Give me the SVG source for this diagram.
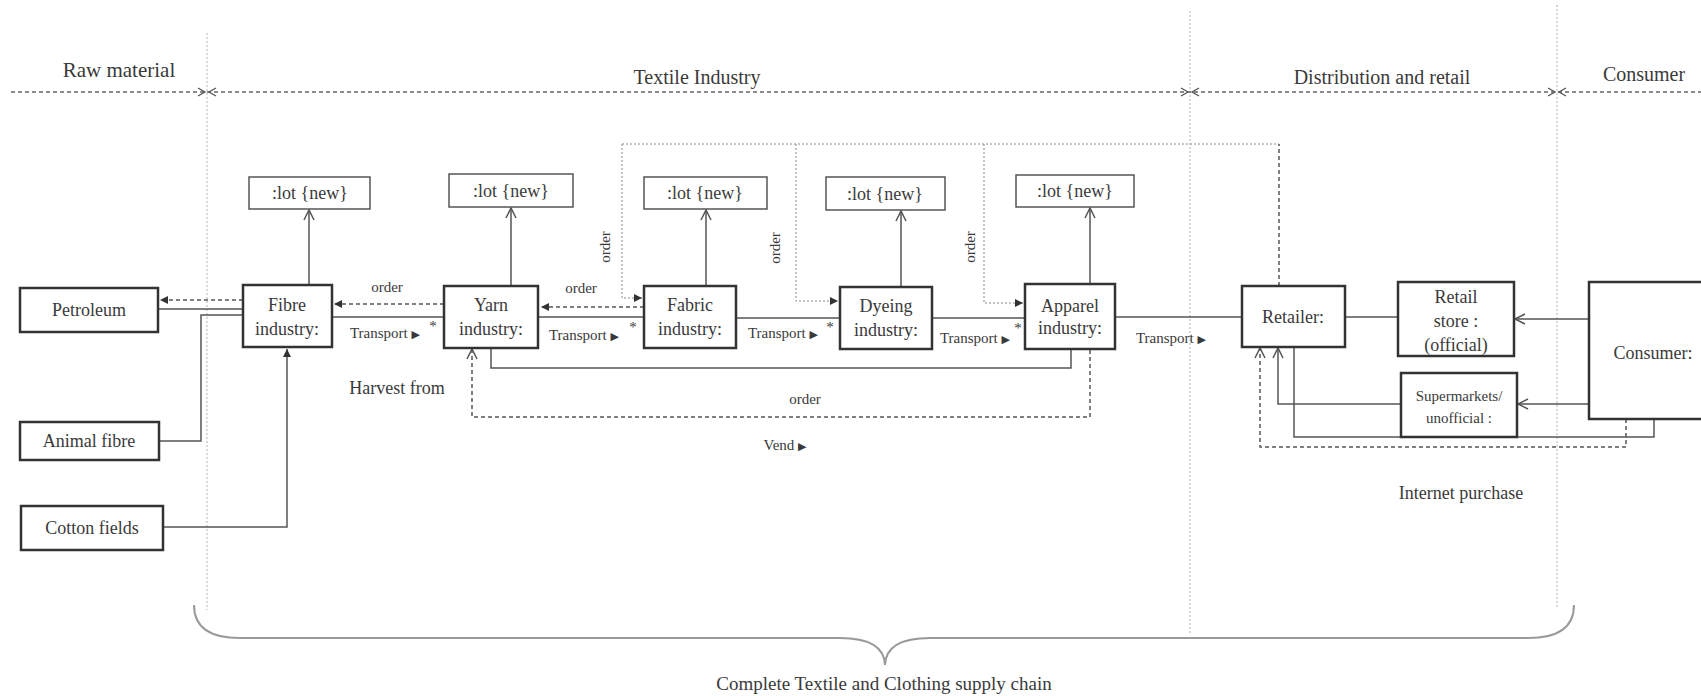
<svg xmlns="http://www.w3.org/2000/svg" width="1701" height="696" viewBox="0 0 1701 696">
<style>
.t{font-family:"Liberation Serif","Times New Roman",serif;fill:#3a3a3a;font-size:18px;text-anchor:middle}
.h{font-size:20px}
.s{font-size:15px}
.box{fill:#fff;stroke:#333;stroke-width:2.5}
.lot{fill:#fff;stroke:#555;stroke-width:1.5}
.ln{fill:none;stroke:#555;stroke-width:1.5}
.dash{fill:none;stroke:#555;stroke-width:1.5;stroke-dasharray:4 3}
.dot{fill:none;stroke:#888;stroke-width:1;stroke-dasharray:2 2}
.div{fill:none;stroke:#b0b0b0;stroke-width:1;stroke-dasharray:2 2}
.hdr{fill:none;stroke:#666;stroke-width:1.5;stroke-dasharray:4 3}
.chev{fill:none;stroke:#555;stroke-width:1.3}
.brace{fill:none;stroke:#999;stroke-width:2}
</style>
<defs>
<marker id="open" markerUnits="userSpaceOnUse" markerWidth="14" markerHeight="14" refX="11" refY="6" orient="auto">
<path d="M1,1 L11,6 L1,11" fill="none" stroke="#555" stroke-width="1.5"/>
</marker>
<marker id="fill" markerUnits="userSpaceOnUse" markerWidth="10" markerHeight="10" refX="8" refY="4" orient="auto">
<path d="M0,0 L8,4 L0,8 z" fill="#333"/>
</marker>
</defs>

<g id="header">
<line class="div" x1="207" y1="33" x2="207" y2="610"/>
<line class="div" x1="1190" y1="11" x2="1190" y2="633"/>
<line class="div" x1="1557" y1="5" x2="1557" y2="608"/>
<line class="hdr" x1="11" y1="92" x2="1701" y2="92"/>
<polyline class="chev" points="198,88 205,92 198,96"/>
<polyline class="chev" points="216,88 209,92 216,96"/>
<polyline class="chev" points="1181,88 1188,92 1181,96"/>
<polyline class="chev" points="1199,88 1192,92 1199,96"/>
<polyline class="chev" points="1548,88 1555,92 1548,96"/>
<polyline class="chev" points="1566,88 1559,92 1566,96"/>
<text class="t" style="font-size:21px" x="119" y="77">Raw material</text>
<text class="t h" x="697" y="84">Textile Industry</text>
<text class="t h" x="1382" y="84">Distribution and retail</text>
<text class="t h" x="1644" y="81">Consumer</text>
</g>

<g id="connectors">
<line class="ln" x1="309" y1="286" x2="309" y2="210" marker-end="url(#open)"/>
<line class="ln" x1="511" y1="286" x2="511" y2="208" marker-end="url(#open)"/>
<line class="ln" x1="706" y1="286" x2="706" y2="210" marker-end="url(#open)"/>
<line class="ln" x1="901" y1="287" x2="901" y2="211" marker-end="url(#open)"/>
<line class="ln" x1="1090" y1="284" x2="1090" y2="208" marker-end="url(#open)"/>
<line class="ln" x1="158" y1="309" x2="243" y2="309"/>
<line class="dash" x1="243" y1="300" x2="160" y2="300" marker-end="url(#fill)"/>
<polyline class="ln" points="159,441 201,441 201,315 243,315"/>
<polyline class="ln" points="163,527 287,527 287,349" marker-end="url(#fill)"/>
<line class="ln" x1="332" y1="317" x2="444" y2="317"/>
<line class="dash" x1="444" y1="304" x2="334" y2="304" marker-end="url(#fill)"/>
<line class="ln" x1="538" y1="317" x2="644" y2="317"/>
<line class="dash" x1="644" y1="307" x2="541" y2="307" marker-end="url(#fill)"/>
<line class="ln" x1="736" y1="318" x2="840" y2="318"/>
<line class="ln" x1="932" y1="318" x2="1025" y2="318"/>
<line class="ln" x1="1115" y1="317" x2="1242" y2="317"/>
<line class="ln" x1="1345" y1="317" x2="1428" y2="317"/>
<line class="dot" x1="622" y1="144" x2="1279" y2="144"/>
<polyline class="dot" points="622,144 622,298 642,298" marker-end="url(#fill)"/>
<polyline class="dot" points="796,144 796,301 838,301" marker-end="url(#fill)"/>
<polyline class="dot" points="984,144 984,303 1023,303" marker-end="url(#fill)"/>
<line class="dash" x1="1279" y1="286" x2="1279" y2="144"/>
<polyline class="ln" points="491,348 491,368 1071,368 1071,350"/>
<polyline class="dash" points="1090,350 1090,417 472,417 472,349" marker-end="url(#open)"/>
<line class="ln" x1="1589" y1="319" x2="1515" y2="319" marker-end="url(#open)"/>
<line class="ln" x1="1589" y1="404" x2="1518" y2="404" marker-end="url(#open)"/>
<polyline class="ln" points="1401,404 1278,404 1278,348" marker-end="url(#open)"/>
<polyline class="ln" points="1294,347 1294,437 1654,437 1654,419"/>
<polyline class="dash" points="1626,419 1626,447 1260,447 1260,348" marker-end="url(#open)"/>
</g>

<g id="labels">
<text class="t s" x="387" y="292">order</text>
<text class="t s" x="581" y="293">order</text>
<text class="t s" x="805" y="404">order</text>
<text class="t s" transform="translate(610,247) rotate(-90)">order</text>
<text class="t s" transform="translate(780,248) rotate(-90)">order</text>
<text class="t s" transform="translate(975,247) rotate(-90)">order</text>
<text class="t s" x="385" y="338">Transport <tspan font-size="11" font-family="DejaVu Sans">▶</tspan></text>
<text class="t s" x="433" y="331">*</text>
<text class="t s" x="584" y="340">Transport <tspan font-size="11" font-family="DejaVu Sans">▶</tspan></text>
<text class="t s" x="633" y="332">*</text>
<text class="t s" x="783" y="338">Transport <tspan font-size="11" font-family="DejaVu Sans">▶</tspan></text>
<text class="t s" x="830" y="332">*</text>
<text class="t s" x="975" y="343">Transport <tspan font-size="11" font-family="DejaVu Sans">▶</tspan></text>
<text class="t s" x="1018" y="333">*</text>
<text class="t s" x="1171" y="343">Transport <tspan font-size="11" font-family="DejaVu Sans">▶</tspan></text>
<text class="t" x="397" y="394">Harvest  from</text>
<text class="t s" x="785" y="450">Vend <tspan font-size="11" font-family="DejaVu Sans">▶</tspan></text>
<text class="t" x="1461" y="499">Internet purchase</text>
</g>

<g id="petroleum"><rect class="box" x="20" y="288" width="138" height="44"/><text class="t" x="89" y="316">Petroleum</text></g>
<g id="animal-fibre"><rect class="box" x="20" y="422" width="139" height="38"/><text class="t" x="89" y="447">Animal  fibre</text></g>
<g id="cotton-fields"><rect class="box" x="21" y="506" width="142" height="44"/><text class="t" x="92" y="534">Cotton fields</text></g>

<g id="lot1"><rect class="lot" x="249" y="177" width="121" height="32"/><text class="t" x="310" y="199">:lot {new}</text></g>
<g id="lot2"><rect class="lot" x="449" y="174" width="124" height="33"/><text class="t" x="511" y="197">:lot {new}</text></g>
<g id="lot3"><rect class="lot" x="644" y="177" width="123" height="32"/><text class="t" x="705" y="199">:lot {new}</text></g>
<g id="lot4"><rect class="lot" x="826" y="177" width="119" height="33"/><text class="t" x="885" y="200">:lot {new}</text></g>
<g id="lot5"><rect class="lot" x="1016" y="175" width="118" height="32"/><text class="t" x="1075" y="197">:lot {new}</text></g>

<g id="fibre"><rect class="box" x="243" y="285" width="89" height="62"/><text class="t" x="287" y="311">Fibre</text><text class="t" x="287" y="335">industry:</text></g>
<g id="yarn"><rect class="box" x="444" y="286" width="94" height="62"/><text class="t" x="491" y="311">Yarn</text><text class="t" x="491" y="335">industry:</text></g>
<g id="fabric"><rect class="box" x="644" y="286" width="92" height="62"/><text class="t" x="690" y="311">Fabric</text><text class="t" x="690" y="335">industry:</text></g>
<g id="dyeing"><rect class="box" x="840" y="287" width="92" height="62"/><text class="t" x="886" y="312">Dyeing</text><text class="t" x="886" y="336">industry:</text></g>
<g id="apparel"><rect class="box" x="1025" y="284" width="90" height="65"/><text class="t" x="1070" y="312">Apparel</text><text class="t" x="1070" y="334">industry:</text></g>

<g id="retailer"><rect class="box" x="1242" y="286" width="103" height="61"/><text class="t" x="1293" y="323">Retailer:</text></g>
<g id="retail-store"><rect class="box" x="1398" y="282" width="116" height="74"/><text class="t" x="1456" y="303">Retail</text><text class="t" x="1456" y="327">store :</text><text class="t" x="1456" y="351">(official)</text></g>
<g id="supermarkets"><rect class="box" x="1401" y="373" width="116" height="64"/><text class="t s" x="1459" y="401">Supermarkets/</text><text class="t s" x="1459" y="423">unofficial  :</text></g>
<g id="consumer"><rect class="box" x="1589" y="282" width="130" height="137"/><text class="t" x="1653" y="359">Consumer:</text></g>

<g id="brace">
<path class="brace" d="M194,605 Q194,638 240,638 L840,638 Q884,638 885,665 Q886,638 930,638 L1528,638 Q1574,638 1574,605"/>
<text class="t" style="font-size:19px" x="884" y="690">Complete Textile and Clothing supply chain</text>
</g>
</svg>
